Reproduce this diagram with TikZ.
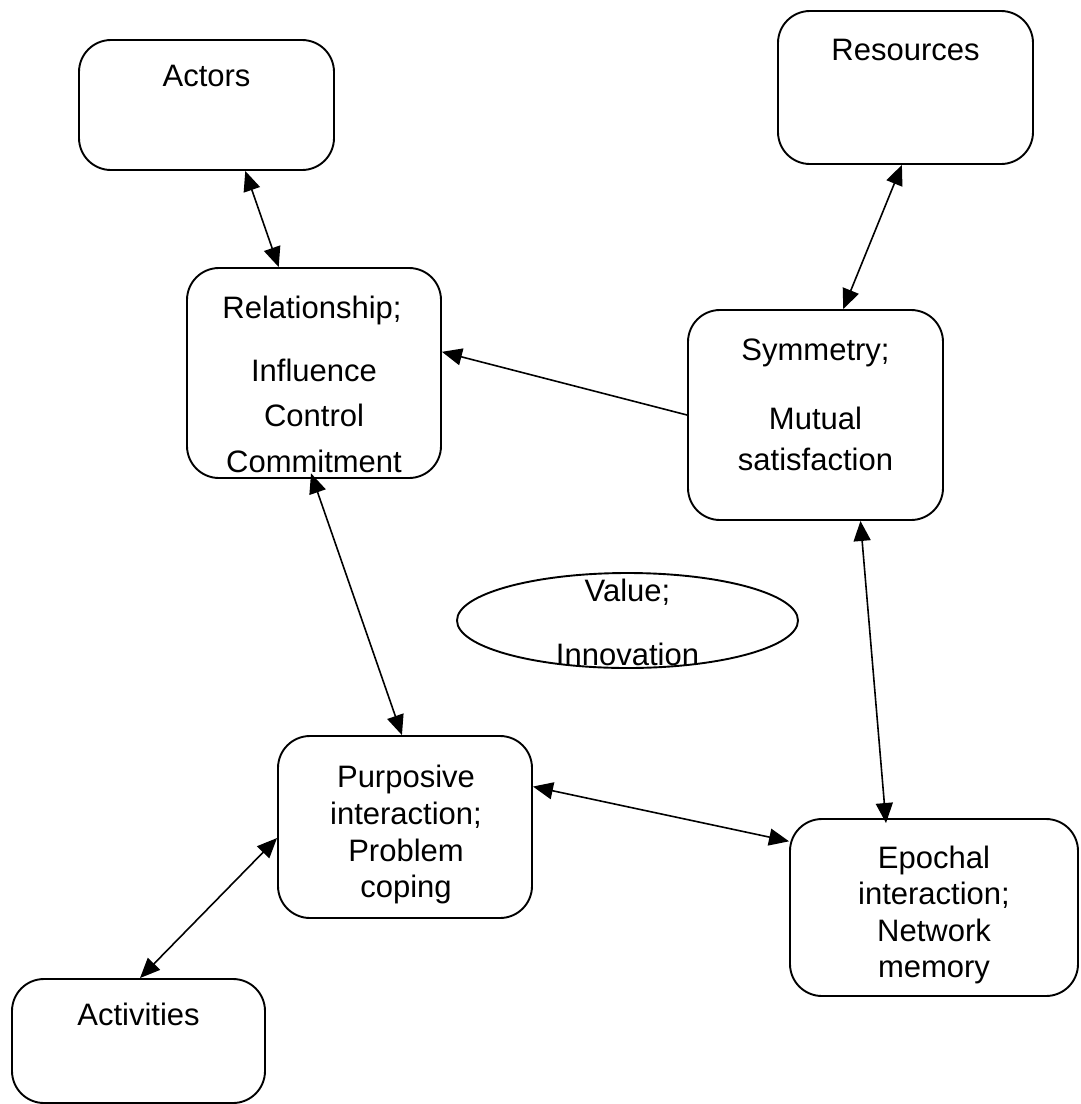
\documentclass[tikz,border=0pt]{standalone}
\usepackage{fontspec}
\setmainfont{Liberation Sans}
\usetikzlibrary{arrows.meta,calc,shapes.geometric}
\begin{document}
\begin{tikzpicture}[x=1pt,y=-1pt,
  box/.style={draw,line width=1.9pt,rounded corners=32pt,inner sep=0pt},
  oval/.style={draw,ellipse,line width=1.9pt,inner sep=0pt},
  txt/.style={inner sep=0pt,anchor=base,font=\fontsize{31}{37}\selectfont},
  link/.style={line width=1.6pt,{Triangle[length=20pt,width=17pt]}-{Triangle[length=20pt,width=17pt]}},
  onelink/.style={line width=1.6pt,-{Triangle[length=20pt,width=17pt]}}]
\useasboundingbox (0,0) rectangle (1080,1104);

% boxes
\node[box,minimum width=255pt,minimum height=130pt] (actors) at (206.5,105) {};
\node[box,minimum width=255pt,minimum height=153pt] (resources) at (905.5,87.5) {};
\node[box,minimum width=254pt,minimum height=210pt] (rel) at (314,373) {};
\node[box,minimum width=255pt,minimum height=210pt] (sym) at (815.5,415) {};
\node[oval,minimum width=341pt,minimum height=95pt] (val) at (627.5,620.5) {};
\node[box,minimum width=254pt,minimum height=182pt] (purp) at (405,827) {};
\node[box,minimum width=288pt,minimum height=177pt] (epoch) at (934,907.5) {};
\node[box,minimum width=253pt,minimum height=124pt] (act) at (138.5,1041) {};

% labels
\node[txt] (actorsT) at (206.5,86) {Actors};
\node[txt] (resourcesT) at (905.5,60) {Resources};
\node[txt] (relT1) at (312,318) {Relationship;};
\node[txt] (relT2) at (314,381) {Influence};
\node[txt] (relT3) at (314,426) {Control};
\node[txt] (relT4) at (314,472) {Commitment};
\node[txt] (symT1) at (815.5,360) {Symmetry;};
\node[txt] (symT2) at (815.5,429) {Mutual};
\node[txt] (symT3) at (815.5,470) {satisfaction};
\node[txt] (valT1) at (627.5,601) {Value;};
\node[txt] (valT2) at (627.5,665) {Innovation};
\node[txt] (purpT1) at (406,787) {Purposive};
\node[txt] (purpT2) at (406,824) {interaction;};
\node[txt] (purpT3) at (406,861) {Problem};
\node[txt] (purpT4) at (406,897) {coping};
\node[txt] (epochT1) at (934,868) {Epochal};
\node[txt] (epochT2) at (934,904.5) {interaction;};
\node[txt] (epochT3) at (934,941) {Network};
\node[txt] (epochT4) at (934,977) {memory};
\node[txt] (actT) at (138.5,1025) {Activities};

% connectors
\draw[link] ($(actors.south west)!0.651!(actors.south east)$) -- ($(rel.north west)!0.362!(rel.north east)$);
\draw[link] ($(resources.south west)!0.486!(resources.south east)$) -- ($(sym.north west)!0.608!(sym.north east)$);
\draw[onelink] (sym.west) -- ($(rel.north east)!0.4!(rel.south east)$);
\draw[link,shorten <=-6pt] ($(rel.south west)!0.496!(rel.south east)$) -- ($(purp.north west)!0.488!(purp.north east)$);
\draw[link,shorten >=-5pt] ($(sym.south west)!0.675!(sym.south east)$) -- ($(epoch.north west)!0.333!(epoch.north east)$);
\draw[link] ($(purp.north east)!0.28!(purp.south east)$) -- ($(epoch.north west)!0.13!(epoch.south west)$);
\draw[link] ($(purp.north west)!0.56!(purp.south west)$) -- ($(act.north west)!0.506!(act.north east)$);
\end{tikzpicture}
\end{document}
